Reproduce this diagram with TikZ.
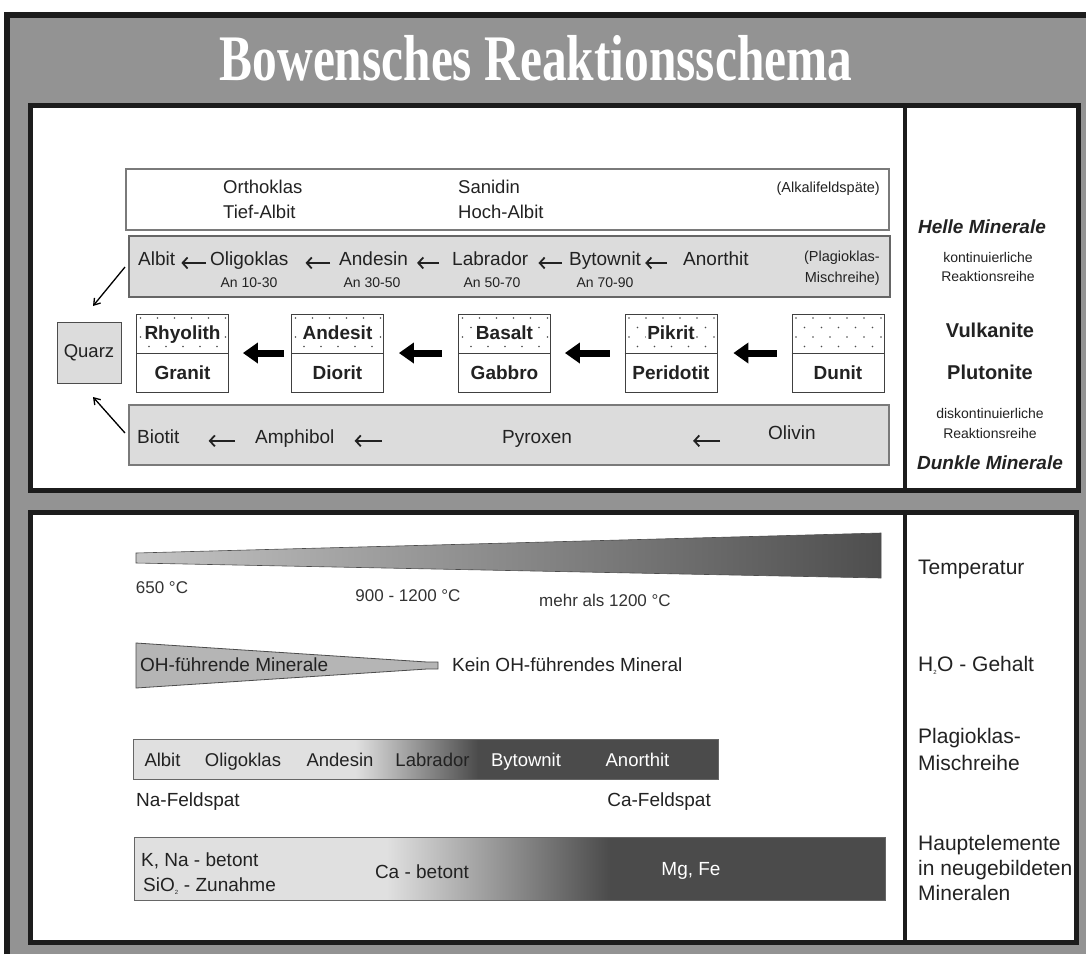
\documentclass[tikz,border=0pt]{standalone}
\usepackage{fontspec}
\setmainfont{Liberation Sans}
\newfontfamily\titlefont{Liberation Serif}
\usetikzlibrary{arrows.meta}
\definecolor{bg}{HTML}{939393}
\definecolor{framec}{HTML}{1C1C1C}
\definecolor{boxgray}{HTML}{DCDCDC}
\definecolor{edgec}{HTML}{7A7A7A}
\definecolor{lightg}{HTML}{E0E0E0}
\definecolor{darkg}{HTML}{4B4B4B}
\definecolor{tleft}{HTML}{C4C4C4}
\definecolor{tright}{HTML}{4E4E4E}
\definecolor{ohgray}{HTML}{B5B5B5}
\definecolor{txtc}{HTML}{222222}
\newcommand\fsz[1]{\fontsize{#1}{#1}\selectfont}
\pgfdeclarehorizontalshading{plagshade}{100bp}{color(0bp)=(lightg); color(44bp)=(lightg); color(54.5bp)=(darkg); color(100bp)=(darkg)}
\pgfdeclarehorizontalshading{elemshade}{100bp}{color(0bp)=(lightg); color(41.8bp)=(lightg); color(56.7bp)=(darkg); color(100bp)=(darkg)}
\newcommand\rockdots[1]{%
  \foreach \r in {0,2}{\foreach \c in {0,...,5}{\fill[black!70] ({#1+4+\c*17},{318+\r*9.5}) circle (0.8pt);}}%
  \foreach \r in {1,3}{\foreach \c in {0,...,4}{\fill[black!70] ({#1+12.5+\c*17},{318+\r*9.5}) circle (0.8pt);}}%
}
\tikzset{
  lbl/.style={inner sep=0pt, anchor=base, text=txtc},
  lblw/.style={lbl, anchor=base west},
  lble/.style={lbl, anchor=base east},
  mbox/.style={draw=edgec, line width=1.2pt, inner sep=0pt},
  rock/.style={draw=black!75, line width=0.8pt, fill=white, minimum width=92pt, minimum height=78pt, inner sep=0pt},
  bigarrow/.style={line width=7pt, -{Triangle[length=15pt,width=20pt]}},
  thinarrow/.style={line width=1.3pt, -{Straight Barb[length=6pt,width=8pt]}},
  smallarrow/.style={txtc, line width=1.8pt, -{Straight Barb[length=5pt,width=11pt]}},
  panel/.style={draw=framec, line width=5pt, fill=white},
  f19/.style={font=\fsz{19}},
  f14/.style={font=\fsz{14}},
}
\begin{document}
\begin{tikzpicture}[x=1pt,y=-1pt]
\useasboundingbox (0,0) rectangle (1086,954);
% background and frame
\fill[white] (0,0) rectangle (1086,954);
\fill[bg] (7,15) rectangle (1086,954);
\draw[framec, line width=6pt] (7,954) -- (7,15) -- (1086,15);
\node[lbl, text=white, font=\titlefont\bfseries\fsz{65}] (title) at (536,80) {\scalebox{0.76}[1]{Bowensches Reaktionsschema}};
% panels
\draw[panel] (30,105) rectangle (1078,490);
\draw[framec, line width=4pt] (905,105) -- (905,490);
\draw[panel] (30,512) rectangle (1076,942);
\draw[framec, line width=4pt] (905,512) -- (905,942);

% ---------- top panel ----------
\node[mbox, fill=white, minimum width=763pt, minimum height=61pt] (alk) at (507.5,199.5) {};
\node[lblw, font=\fsz{18.5}] (orth) at (223,193.5) {Orthoklas};
\node[lblw, font=\fsz{18.5}] (tief) at (223,218.5) {Tief-Albit};
\node[lblw, font=\fsz{18.5}] (sani) at (458,193.5) {Sanidin};
\node[lblw, font=\fsz{18.5}] (hoch) at (458,218.5) {Hoch-Albit};
\node[lble, font=\fsz{14.5}] (alkl) at (880,192) {(Alkalifeldspäte)};

\node[mbox, draw=black!60, fill=boxgray, minimum width=761pt, minimum height=61pt] (plag) at (509.5,266.5) {};
\node[lblw, f19] (albit) at (138,265.6) {Albit};
\node[lblw, f19] (oligo) at (210,265.6) {Oligoklas};
\node[lbl, f14] (an1) at (249,287) {An 10-30};
\node[lblw, f19] (andes) at (339,265.6) {Andesin};
\node[lbl, f14] (an2) at (372,287) {An 30-50};
\node[lblw, f19] (labr) at (452,265.6) {Labrador};
\node[lbl, f14] (an3) at (492,287) {An 50-70};
\node[lblw, f19] (byto) at (569,265.6) {Bytownit};
\node[lbl, f14] (an4) at (605,287) {An 70-90};
\node[lblw, f19] (anor) at (683,265.6) {Anorthit};
\node[lble, font=\fsz{14.5}] (plagl1) at (880,261) {(Plagioklas-};
\node[lble, font=\fsz{14.5}] (plagl2) at (880,282) {Mischreihe)};
\draw[smallarrow, shorten <=4pt, shorten >=6pt] (oligo.mid west) -- (albit.mid east);
\draw[smallarrow, shorten <=9pt, shorten >=17pt] (andes.mid west) -- (oligo.mid east);
\draw[smallarrow, shorten <=13pt, shorten >=9pt] (labr.mid west) -- (andes.mid east);
\draw[smallarrow, shorten <=7pt, shorten >=10pt] (byto.mid west) -- (labr.mid east);
\draw[smallarrow, shorten <=16pt, shorten >=4pt] (anor.mid west) -- (byto.mid east);

% rock boxes
\node[draw=black!70, line width=0.8pt, fill=boxgray, minimum width=64pt, minimum height=61pt, inner sep=0pt, font=\fsz{18.5}, text=txtc] (quarz) at (89,352.5) {Quarz};

\node[rock] (r1) at (182.5,353) {};
\node[rock] (r2) at (337.5,353) {};
\node[rock] (r3) at (504.5,353) {};
\node[rock] (r4) at (671,353) {};
\node[rock] (r5) at (838,353) {};
\rockdots{136.5}
\rockdots{291.5}
\rockdots{458.5}
\rockdots{625}
\rockdots{792}
\foreach \n in {r1,r2,r3,r4,r5}{\draw[black!75, line width=0.8pt] (\n.west) -- (\n.east);}
\node[lbl, fill=white, inner sep=1pt, font=\bfseries\fsz{19}] (v1) at (182.5,339.5) {Rhyolith};
\node[lbl, fill=white, inner sep=1pt, font=\bfseries\fsz{19}] (v2) at (337.5,339.5) {Andesit};
\node[lbl, fill=white, inner sep=1pt, font=\bfseries\fsz{19}] (v3) at (504.5,339.5) {Basalt};
\node[lbl, fill=white, inner sep=1pt, font=\bfseries\fsz{19}] (v4) at (671,339.5) {Pikrit};
\node[lbl, font=\bfseries\fsz{19}] (p1) at (182.5,379.5) {Granit};
\node[lbl, font=\bfseries\fsz{19}] (p2) at (337.5,379.5) {Diorit};
\node[lbl, font=\bfseries\fsz{19}] (p3) at (504.5,379.5) {Gabbro};
\node[lbl, font=\bfseries\fsz{19}] (p4) at (671,379.5) {Peridotit};
\node[lbl, font=\bfseries\fsz{19}] (p5) at (838,379.5) {Dunit};
\draw[bigarrow, shorten <=7pt, shorten >=14pt] (r2.west) -- (r1.east);
\draw[bigarrow, shorten <=16pt, shorten >=15pt] (r3.west) -- (r2.east);
\draw[bigarrow, shorten <=15pt, shorten >=14pt] (r4.west) -- (r3.east);
\draw[bigarrow, shorten <=15pt, shorten >=16pt] (r5.west) -- (r4.east);

\node[mbox, fill=boxgray, minimum width=760pt, minimum height=60pt] (olv) at (509,435) {};
\node[lblw, f19] (biot) at (137,443.5) {Biotit};
\node[lblw, f19] (amph) at (255,443.5) {Amphibol};
\node[lblw, f19] (pyro) at (502,443.5) {Pyroxen};
\node[lblw, f19] (oliv) at (768,439.5) {Olivin};
\draw[smallarrow, shorten <=20pt, shorten >=29pt] (amph.mid west) -- (biot.mid east);
\draw[smallarrow, shorten <=120pt, shorten >=20pt] (pyro.mid west) -- (amph.mid east);
\draw[smallarrow, shorten <=48pt, shorten >=121pt] (oliv.mid west |- pyro.mid) -- (pyro.mid east);

\coordinate (qa1) at (125,267);
\coordinate (qb1) at (93,306);
\coordinate (qa2) at (125,433);
\coordinate (qb2) at (93,397);
\draw[thinarrow] (qa1) -- (qb1);
\draw[thinarrow] (qa2) -- (qb2);

% right column top
\node[lbl, font=\bfseries\itshape\fsz{19}] (helle) at (982,233.5) {Helle Minerale};
\node[lbl, f14] (kont) at (988,262) {kontinuierliche};
\node[lbl, f14] (reak1) at (988,281) {Reaktionsreihe};
\node[lbl, font=\bfseries\fsz{20}] (vulk) at (990,337) {Vulkanite};
\node[lbl, font=\bfseries\fsz{20}] (plut) at (990,379) {Plutonite};
\node[lbl, f14] (disk) at (990,418) {diskontinuierliche};
\node[lbl, f14] (reak2) at (990,438) {Reaktionsreihe};
\node[lbl, font=\bfseries\itshape\fsz{19}] (dunk) at (990,469.5) {Dunkle Minerale};

% ---------- bottom panel ----------
\path[draw=black!70, line width=0.6pt, left color=tleft, right color=tright] (136,553) -- (881,533) -- (881,578) -- (136,563) -- cycle;
\node[lbl, font=\fsz{17}, text=black!80] (t1) at (162,593) {650 °C};
\node[lbl, font=\fsz{17}, text=black!80] (t2) at (408,601) {900 - 1200 °C};
\node[lbl, font=\fsz{17}, text=black!80] (t3) at (605,606) {mehr als 1200 °C};

\path[draw=black!70, line width=0.8pt, fill=ohgray] (136,643) -- (427,662) -- (438,662) -- (438,669) -- (427,669) -- (136,688) -- cycle;
\node[lblw, f19] (oh1) at (140,671.5) {OH-führende Minerale};
\node[lblw, f19] (oh2) at (452,671.5) {Kein OH-führendes Mineral};

\shadedraw[shading=plagshade, draw=black!60, line width=0.8pt] (133,739) rectangle (718,779);
\node[lbl, font=\fsz{18.5}] (b1) at (162.5,766.5) {Albit};
\node[lbl, font=\fsz{18.5}] (b2) at (243,766.5) {Oligoklas};
\node[lbl, font=\fsz{18.5}] (b3) at (340,766.5) {Andesin};
\node[lbl, font=\fsz{18.5}] (b4) at (432.5,766.5) {Labrador};
\node[lbl, font=\fsz{18.5}, text=white] (b5) at (526,766.5) {Bytownit};
\node[lbl, font=\fsz{18.5}, text=white] (b6) at (637.5,766.5) {Anorthit};
\node[lblw, f19] (naf) at (136,806.5) {Na-Feldspat};
\node[lble, f19] (caf) at (711,806.5) {Ca-Feldspat};

\shadedraw[shading=elemshade, draw=black!60, line width=0.8pt] (134,837) rectangle (885,900);
\node[lblw, f19] (e1) at (141,866.5) {K, Na - betont};
\node[lblw, f19] (e2) at (143,891.5) {SiO\textsubscript{\fsz{6}2} - Zunahme};
\node[lbl, f19] (e3) at (422,878.5) {Ca - betont};
\node[lbl, f19, text=white] (e4) at (691,875.5) {Mg, Fe};

% right column bottom
\node[lblw, font=\fsz{21}] (rb1) at (918,574.5) {Temperatur};
\node[lblw, font=\fsz{21}] (rb2) at (918,671.5) {H\textsubscript{\fsz{6}2}O - Gehalt};
\node[lblw, font=\fsz{21}] (rb3) at (918,743.5) {Plagioklas-};
\node[lblw, font=\fsz{21}] (rb4) at (918,770.5) {Mischreihe};
\node[lblw, font=\fsz{21}] (rb5) at (918,850.5) {Hauptelemente};
\node[lblw, font=\fsz{21}] (rb6) at (918,875.5) {in neugebildeten};
\node[lblw, font=\fsz{21}] (rb7) at (918,900.5) {Mineralen};
\end{tikzpicture}
\end{document}
